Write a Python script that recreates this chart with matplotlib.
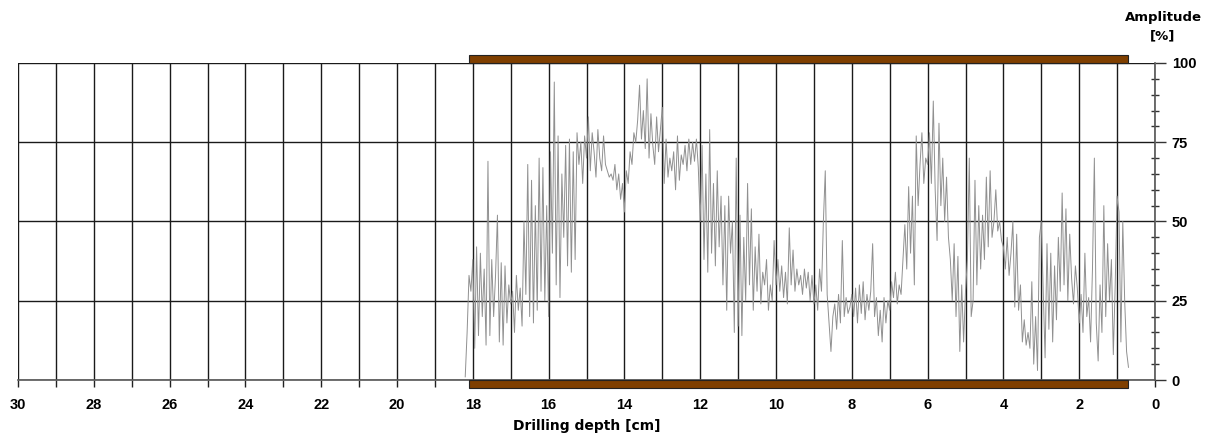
import numpy as np
import matplotlib
matplotlib.use("Agg")
import matplotlib.pyplot as plt
from matplotlib.patches import Rectangle

# ---- data (amplitude in %, sampled every 0.05 cm from 18.20 cm to 0.70 cm) ----
amp_18_2 = [1, 15, 33, 28]
amp_18 = [38, 10, 42, 14, 40, 20, 35, 11, 69, 14, 38, 20, 33, 52, 12, 37, 11, 36, 18, 30]
amp_17 = [24, 28, 15, 33, 22, 29, 17, 50, 27, 68, 20, 63, 18, 55, 22, 70, 28, 67, 25, 55]
amp_16 = [20, 72, 40, 94, 30, 77, 26, 65, 45, 74, 36, 76, 34, 72, 38, 78, 68, 75, 62, 77]
amp_15 = [70, 83, 66, 78, 72, 64, 79, 70, 66, 77, 68, 66, 64, 65, 63, 68, 60, 65, 57, 62]
amp_14 = [53, 66, 62, 72, 68, 78, 75, 82, 93, 76, 85, 73, 95, 70, 84, 74, 68, 83, 72, 79]
amp_13 = [86, 62, 76, 64, 70, 66, 72, 60, 77, 63, 71, 68, 74, 66, 76, 68, 75, 69, 76, 67]
amp_12 = [50, 74, 38, 65, 34, 79, 40, 62, 36, 66, 42, 58, 30, 55, 22, 58, 40, 50, 15, 70]
amp_11 = [17, 52, 14, 45, 25, 62, 30, 54, 22, 42, 28, 46, 24, 34, 30, 38, 22, 30, 25, 44]
amp_10 = [30, 38, 28, 36, 26, 34, 24, 48, 30, 41, 28, 35, 30, 33, 27, 35, 29, 34, 25, 33]
amp_9 = [24, 30, 22, 35, 28, 50, 66, 27, 18, 9, 20, 24, 16, 27, 18, 44, 20, 26, 21, 23]
amp_8 = [27, 20, 29, 18, 30, 21, 31, 19, 27, 22, 28, 43, 20, 26, 14, 22, 12, 26, 18, 25]
amp_7 = [22, 31, 26, 34, 24, 30, 27, 38, 49, 35, 61, 40, 58, 30, 77, 55, 68, 78, 62, 70]
amp_6 = [68, 78, 62, 88, 60, 44, 81, 55, 70, 50, 64, 45, 38, 25, 43, 20, 39, 9, 30, 12]
amp_5 = [28, 38, 70, 20, 25, 63, 30, 55, 35, 52, 38, 64, 42, 66, 45, 50, 60, 47, 50, 44]
amp_4 = [42, 35, 45, 33, 40, 50, 23, 46, 22, 30, 12, 19, 11, 15, 10, 31, 5, 20, 3, 45]
amp_3 = [50, 28, 7, 43, 16, 40, 12, 36, 19, 45, 28, 59, 30, 54, 25, 46, 32, 24, 36, 29]
amp_2 = [18, 27, 15, 40, 20, 26, 12, 35, 70, 18, 6, 30, 15, 55, 20, 43, 25, 38, 8, 30]
amp_1 = [58, 53, 12, 50, 25, 9, 4]

amplitude = (amp_18_2 + amp_18 + amp_17 + amp_16 + amp_15 + amp_14 + amp_13 + amp_12
             + amp_11 + amp_10 + amp_9 + amp_8 + amp_7 + amp_6 + amp_5 + amp_4
             + amp_3 + amp_2 + amp_1)
depth_start, depth_end = 18.2, 0.7
depth = np.linspace(depth_start, depth_end, len(amplitude))

measured_from, measured_to = 18.1, 0.72   # extent of the brown bars
x_major = [30, 28, 26, 24, 22, 20, 18, 16, 14, 12, 10, 8, 6, 4, 2, 0]
y_major = [0, 25, 50, 75, 100]

# ---- figure ----
plt.rcParams['font.family'] = ['Liberation Sans', 'DejaVu Sans']
fig = plt.figure(figsize=(12.05, 4.36), dpi=100)
ax = fig.add_axes([18 / 1205, 56 / 436, (1155 - 18) / 1205, (380 - 63) / 436])

ax.plot(depth, amplitude, color='#909090', lw=0.7, zorder=3)

ax.set_xlim(30, 0)
ax.set_ylim(0, 100)

ax.set_xticks(x_major)
ax.set_xticks(np.arange(1, 31, 2), minor=True)
ax.set_xticklabels([str(v) for v in x_major], fontweight='bold', fontsize=10.5)
ax.set_yticks(y_major)
ax.set_yticks(np.arange(0, 101, 5), minor=True)
ax.yaxis.tick_right()
ax.set_yticklabels([str(v) for v in y_major], fontweight='bold', fontsize=10.5)

ax.tick_params(axis='x', which='both', direction='out', length=5, width=1,
               color='#222222', pad=8)
ax.tick_params(axis='y', which='major', direction='out', length=8, width=1,
               color='#333333', pad=4)
ax.tick_params(axis='y', which='minor', direction='inout', length=6, width=1,
               color='#333333')

ax.grid(axis='x', which='both', color='#1a1a1a', lw=1.0, zorder=1)
ax.grid(axis='y', which='major', color='#1a1a1a', lw=1.0, zorder=1)

for s in ['left', 'top']:
    ax.spines[s].set_visible(False)
ax.spines['bottom'].set_color('#555555')
ax.spines['right'].set_color('#555555')
ax.spines['bottom'].set_linewidth(1.2)
ax.spines['right'].set_linewidth(1.2)

# brown bars above 100 and below 0
bar_color = '#7f3f00'
ax.add_patch(Rectangle((measured_to, 100), measured_from - measured_to, 2.6,
                       facecolor=bar_color, edgecolor='#222222', lw=0.8,
                       clip_on=False, zorder=4))
ax.add_patch(Rectangle((measured_to, -2.6), measured_from - measured_to, 2.6,
                       facecolor=bar_color, edgecolor='#222222', lw=0.8,
                       clip_on=False, zorder=4))

label_font = dict(family='DejaVu Sans', fontweight='bold')
ax.set_xlabel('Drilling depth [cm]', fontsize=10, labelpad=5, **label_font)
fig.text(1163 / 1205, 1 - 18 / 436, 'Amplitude', fontsize=9.5,
         ha='center', va='center', **label_font)
fig.text(1163 / 1205, 1 - 36 / 436, '[%]', fontsize=9.5,
         ha='center', va='center', **label_font)

fig.savefig('out.png', dpi=100)
